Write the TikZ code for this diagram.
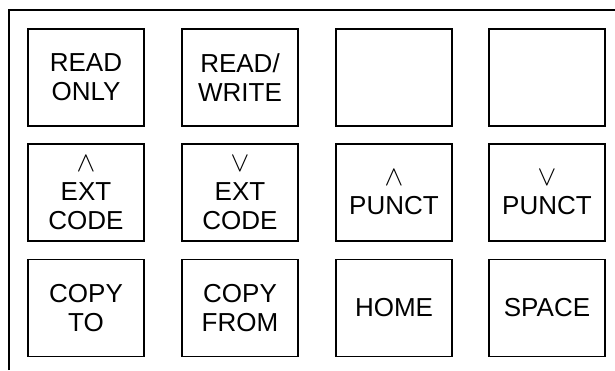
\documentclass[tikz,border=0pt]{standalone}
\usepackage{fontspec}
\setmainfont{Liberation Sans}
\newcommand{\upmark}{\scalebox{1.35}{\fontsize{20}{20}\selectfont$\wedge$}}
\newcommand{\downmark}{\scalebox{1.35}{\fontsize{20}{20}\selectfont$\vee$}}
\tikzset{
  keycap/.style={draw,line width=1.2pt,minimum width=116pt,minimum height=97pt,
    inner sep=0pt,align=center,font=\fontsize{26}{29}\selectfont},
}
\begin{document}
\begin{tikzpicture}[x=1pt,y=-1pt]
\useasboundingbox (0,0) rectangle (615,370);
\draw[line width=1.2pt] (9,370) -- (9,10) -- (615,10);

\node[keycap] (readonly) at (86,77.5) {READ\\ONLY};
\node[keycap] (readwrite) at (240,77.5) {READ/\\WRITE};
\node[keycap] (blankA) at (394,77.5) {};
\node[keycap] (blankB) at (547,77.5) {};

\node[keycap] (extup) at (86,192.5) {\upmark\\[0pt]EXT\\CODE};
\node[keycap] (extdown) at (240,192.5) {\downmark\\[0pt]EXT\\CODE};
\node[keycap] (punctup) at (394,192.5) {\upmark\\[0pt]PUNCT};
\node[keycap] (punctdown) at (547,192.5) {\downmark\\[0pt]PUNCT};

\node[keycap] (copyto) at (86,308) {COPY\\TO};
\node[keycap] (copyfrom) at (240,308) {COPY\\FROM};
\node[keycap] (home) at (394,308) {HOME};
\node[keycap] (space) at (547,308) {SPACE};
\end{tikzpicture}
\end{document}
